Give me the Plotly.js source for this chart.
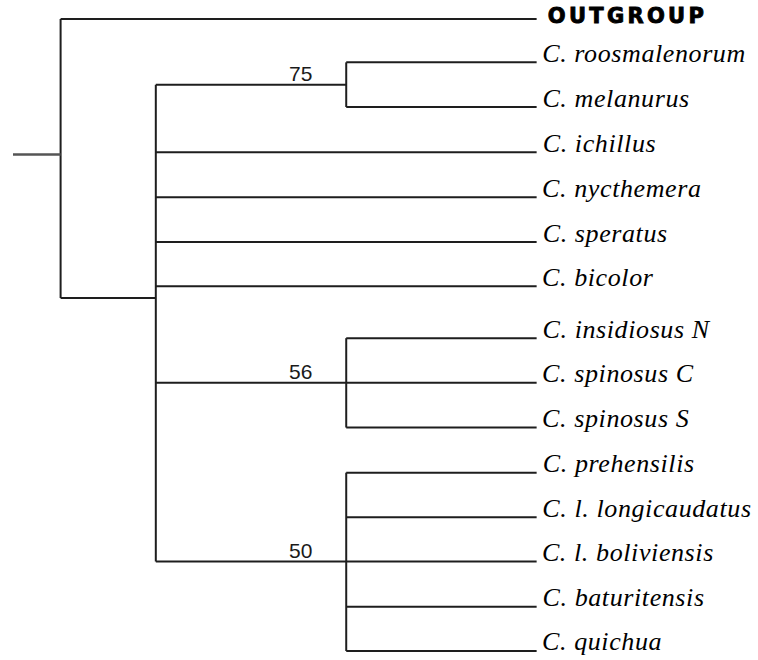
<!DOCTYPE html>
<html>
<head>
<meta charset="utf-8">
<script src="https://cdn.plot.ly/plotly-3.0.1.min.js"></script>
<style>
  html, body { margin: 0; padding: 0; background: #fff; }
  #chart { width: 758px; height: 660px; }
  g.annotation[data-index="0"] text { letter-spacing: 3.3px; stroke: #000; stroke-width: 0.9px; }
  g.annotation.tip text { letter-spacing: 0.6px; }
</style>
</head>
<body>
<div id="chart"></div>
<script>
// ---- tree data ----
const taxa = ['OUTGROUP', 'C. roosmalenorum', 'C. melanurus', 'C. ichillus', 'C. nycthemera',
  'C. speratus', 'C. bicolor', 'C. insidiosus N', 'C. spinosus C', 'C. spinosus S',
  'C. prehensilis', 'C. l. longicaudatus', 'C. l. boliviensis', 'C. baturitensis', 'C. quichua'];
const tipRow = [0, 0.96, 1.95, 2.95, 3.95, 4.94, 5.92, 7.07, 8.06, 9.05, 10.05, 11.04, 12.02, 13.02, 14.0];
const tipParent = ['root', 'n75', 'n75', 'ingroup', 'ingroup', 'ingroup', 'ingroup',
  'n56', 'n56', 'n56', 'n50', 'n50', 'n50', 'n50', 'n50'];
const nodeIds = ['root', 'ingroup', 'n75', 'n56', 'n50'];
const nodeParent = [null, 'root', 'ingroup', 'ingroup', 'ingroup'];
const nodeDepth = [1, 3, 7, 7, 7];
const nodeRow = [3.0, 6.18, 1.455, 8.06, 12.02];
const nodeSupport = ['', '', '75', '56', '50'];
const tipDepth = 11;
const rootStubDepth = 0;

// ---- build branch segments ----
const depthOf = id => nodeDepth[nodeIds.indexOf(id)];
const hx = [], hy = [];
function seg(x0, y0, x1, y1) { hx.push(x0, x1, null); hy.push(y0, y1, null); }

taxa.forEach((t, i) => seg(depthOf(tipParent[i]), tipRow[i], tipDepth, tipRow[i]));
nodeIds.forEach((id, k) => {
  if (nodeParent[k]) seg(depthOf(nodeParent[k]), nodeRow[k], nodeDepth[k], nodeRow[k]);
  const childRows = [];
  taxa.forEach((t, i) => { if (tipParent[i] === id) childRows.push(tipRow[i]); });
  nodeIds.forEach((c, j) => { if (nodeParent[j] === id) childRows.push(nodeRow[j]); });
  seg(nodeDepth[k], Math.min(...childRows), nodeDepth[k], Math.max(...childRows));
});

const traces = [
  { type: 'scatter', mode: 'lines', x: hx, y: hy, hoverinfo: 'skip',
    line: { color: '#1e1e1e', width: 2, shape: 'linear' } },
  { type: 'scatter', mode: 'lines', x: [rootStubDepth, nodeDepth[0]], y: [nodeRow[0], nodeRow[0]],
    hoverinfo: 'skip', line: { color: '#555555', width: 2.5 } }
];

const annotations = [];
taxa.forEach((t, i) => {
  const outg = i === 0;
  annotations.push({
    x: tipDepth, y: tipRow[i], xref: 'x', yref: 'y', text: t, showarrow: false,
    xanchor: 'left', yanchor: 'middle',
    xshift: outg ? 11 + 7 * 3.3 / 2 : 4 + (t.length - 1) * 0.6 / 2,
    yshift: outg ? 3 : 9,
    font: outg
      ? { family: 'DejaVu Sans, Liberation Sans, sans-serif', size: 21, color: '#000', weight: 900 }
      : { family: 'Liberation Serif, Times New Roman, serif', size: 26, color: '#000', style: 'italic' }
  });
});
nodeIds.forEach((id, k) => {
  if (!nodeSupport[k]) return;
  annotations.push({
    x: nodeDepth[k], y: nodeRow[k], xref: 'x', yref: 'y', text: nodeSupport[k], showarrow: false,
    xanchor: 'center', yanchor: 'bottom', xshift: -46, yshift: -2,
    font: { family: 'Liberation Sans, Arial, sans-serif', size: 21, color: '#1a1a1a' }
  });
});

const layout = {
  width: 758, height: 660,
  margin: { l: 0, r: 0, t: 0, b: 0 },
  paper_bgcolor: '#ffffff', plot_bgcolor: '#ffffff',
  showlegend: false,
  xaxis: { range: [-0.273, 15.65], visible: false, fixedrange: true },
  yaxis: { range: [14.2, -0.421], visible: false, fixedrange: true },
  annotations: annotations
};

Plotly.newPlot('chart', traces, layout, { staticPlot: true, displayModeBar: false }).then(() => {
  document.querySelectorAll('g.annotation').forEach(g => {
    const idx = +g.getAttribute('data-index');
    if (idx > 0 && idx < taxa.length) g.classList.add('tip');
  });
});
</script>
</body>
</html>
